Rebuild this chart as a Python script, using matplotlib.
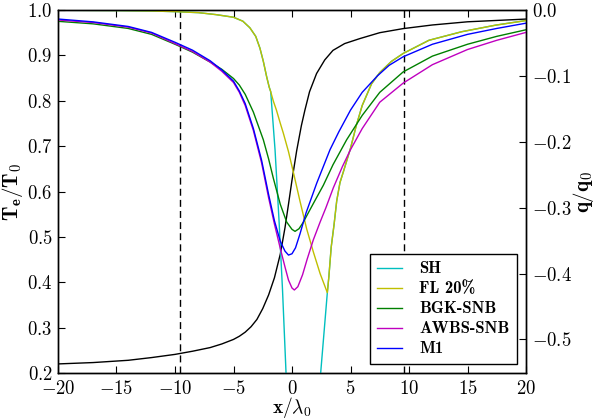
import matplotlib
matplotlib.use("Agg")
import matplotlib.pyplot as plt
from matplotlib.font_manager import FontProperties

plt.rcParams.update({
    "font.family": "serif",
    "font.serif": ["cmr10"],
    "mathtext.fontset": "cm",
    "axes.formatter.use_mathtext": True,
    "axes.unicode_minus": True,
})

# ---- data ----
t_x = [-20, -17, -14, -12, -10, -8.5, -7, -6, -5, -4.5, -4, -3.5, -3, -2.5, -2, -1.5, -1.0,
       -0.6, -0.3, 0.0, 0.4, 0.8, 1.1, 1.5, 2.1, 2.8, 3.5, 4.5, 5.8, 7.5, 9.5, 12, 15, 20]
t_val = [0.220, 0.223, 0.228, 0.234, 0.241, 0.248, 0.256, 0.264, 0.274, 0.281, 0.290, 0.302,
         0.318, 0.342, 0.372, 0.410, 0.462, 0.520, 0.572, 0.625, 0.690, 0.745, 0.779, 0.820,
         0.860, 0.890, 0.911, 0.926, 0.937, 0.950, 0.959, 0.967, 0.974, 0.980]

fl_x = [-20, -15, -12, -10, -8, -6.5, -5, -4.2, -3.6, -3.1, -2.74, -2.45, -2.17, -1.95, -1.82,
        -1.6, -1.33, -1.0, -0.74, -0.3, 0.1, 0.68, 1.25, 1.82, 2.4, 3.02, 3.15, 3.35, 3.6,
        3.82, 4.1, 4.4, 5.0, 5.5, 6.0, 6.8, 7.5, 8.5, 9.5, 11.7, 14.5, 17.4, 20]
fl_q = [-0.0004, -0.0008, -0.0015, -0.0025, -0.004, -0.007, -0.011, -0.017, -0.027, -0.040,
        -0.058, -0.078, -0.101, -0.117, -0.124, -0.138, -0.152, -0.172, -0.187, -0.215, -0.245,
        -0.290, -0.332, -0.367, -0.400, -0.429, -0.405, -0.360, -0.325, -0.290, -0.262, -0.245,
        -0.210, -0.175, -0.145, -0.112, -0.095, -0.078, -0.066, -0.046, -0.033, -0.023, -0.016]

sh_x = [-20, -15, -12, -10, -8, -6.5, -5, -4.2, -3.6, -3.1, -2.74, -2.45, -2.17, -1.95, -1.82,
        -1.45, -1.11, -0.81, -0.51, -0.2, 0.5, 1.3, 2.0, 2.45, 3.02, 3.15, 3.35, 3.6,
        3.82, 4.1, 4.4, 5.0, 5.5, 6.0, 6.8, 7.5, 8.5, 9.5, 11.7, 14.5, 17.4, 20]
sh_q = [-0.0004, -0.0008, -0.0015, -0.0025, -0.004, -0.007, -0.011, -0.017, -0.027, -0.040,
        -0.058, -0.078, -0.101, -0.117, -0.124, -0.212, -0.319, -0.425, -0.551, -0.72, -0.95,
        -0.95, -0.67, -0.551, -0.429, -0.405, -0.360, -0.325, -0.290, -0.262, -0.245,
        -0.210, -0.175, -0.145, -0.112, -0.095, -0.078, -0.066, -0.046, -0.033, -0.023, -0.016]

bgk_x = [-20, -17, -14, -12, -10, -8.5, -7, -6, -5, -4.5, -4, -3.3, -2.45, -2.0, -1.6, -1.0,
         -0.45, 0.0, 0.26, 0.6, 0.97, 1.48, 2.0, 2.68, 3.5, 4.67, 6.0, 7.5, 9.5, 12, 15, 17.5, 20]
bgk_q = [-0.0172, -0.021, -0.028, -0.037, -0.052, -0.064, -0.079, -0.090, -0.104, -0.114,
         -0.128, -0.155, -0.197, -0.226, -0.255, -0.295, -0.322, -0.333, -0.336, -0.332,
         -0.322, -0.305, -0.288, -0.266, -0.235, -0.197, -0.160, -0.125, -0.094, -0.070,
         -0.052, -0.040, -0.030]

awbs_x = [-20, -17, -14, -12, -10, -8.5, -7, -6, -5, -4.5, -4, -3.3, -2.6, -2.0, -1.5, -1.0,
          -0.6, -0.3, 0.0, 0.2, 0.5, 0.9, 1.3, 1.82, 2.4, 2.9, 3.53, 4.3, 5.0, 6.0, 7.5, 9.5,
          12, 15, 17.5, 20]
awbs_q = [-0.0152, -0.019, -0.026, -0.035, -0.051, -0.063, -0.079, -0.093, -0.110, -0.125,
          -0.145, -0.183, -0.232, -0.285, -0.325, -0.362, -0.390, -0.410, -0.422, -0.425,
          -0.420, -0.402, -0.378, -0.349, -0.322, -0.300, -0.270, -0.238, -0.212, -0.180,
          -0.140, -0.111, -0.083, -0.060, -0.046, -0.034]

m1_x = [-20, -17, -14, -12, -10, -8.5, -7, -6, -5, -4.5, -4, -3.3, -2.6, -2.0, -1.5, -1.0,
        -0.6, -0.3, 0.0, 0.3, 0.68, 1.2, 2.11, 3.25, 4.0, 5.0, 6.0, 7.3, 8.3, 9.5, 12, 15,
        17.5, 20]
m1_q = [-0.0137, -0.018, -0.025, -0.034, -0.049, -0.061, -0.077, -0.091, -0.108, -0.123,
        -0.142, -0.180, -0.228, -0.280, -0.320, -0.351, -0.366, -0.372, -0.370, -0.361,
        -0.340, -0.308, -0.263, -0.212, -0.185, -0.152, -0.125, -0.100, -0.084, -0.071,
        -0.052, -0.037, -0.028, -0.020]

labels = ["SH", "FL 20%", "BGK-SNB", "AWBS-SNB", "M1"]
dash_x = [-9.55, 9.55]

# ---- figure ----
fig = plt.figure(figsize=(5.96, 4.18), dpi=100)
ax = fig.add_axes([58/596, 1-373/418, (526-58)/596, (373-10)/418])
ax2 = ax.twinx()

ax.plot(t_x, t_val, color="k", lw=1.0)
for xv in dash_x:
    ax.axvline(xv, color="k", lw=1.0, ls=(0, (5, 3)))

ax2.plot(sh_x, sh_q, color="c", lw=1.0, label=labels[0])
ax2.plot(fl_x, fl_q, color="y", lw=1.0, label=labels[1])
ax2.plot(bgk_x, bgk_q, color="g", lw=1.0, label=labels[2])
ax2.plot(awbs_x, awbs_q, color="m", lw=1.0, label=labels[3])
ax2.plot(m1_x, m1_q, color="b", lw=1.0, label=labels[4])

ax.set_xlim(-20, 20)
ax.set_ylim(0.2, 1.0)
ax2.set_ylim(-0.551, 0.0)
ax.set_xticks([-20, -15, -10, -5, 0, 5, 10, 15, 20])
ax.set_yticks([0.2, 0.3, 0.4, 0.5, 0.6, 0.7, 0.8, 0.9, 1.0])
ax2.set_yticks([0.0, -0.1, -0.2, -0.3, -0.4, -0.5])

ax.tick_params(axis="x", which="both", direction="in", top=True, bottom=True,
               length=5, width=0.8, labelsize=13.5, pad=5)
ax.tick_params(axis="y", direction="in", left=True, right=False, length=5, width=0.8,
               labelsize=13.5, pad=4)
ax2.tick_params(axis="y", direction="in", right=True, left=False, length=5, width=0.8,
                labelsize=13.5, pad=4)
for a in (ax, ax2):
    for s in a.spines.values():
        s.set_linewidth(1.0)

ax.set_xlabel(r"$\mathbf{x/\boldsymbol{\lambda}_0}$", fontsize=14)
ax.set_ylabel(r"$\mathbf{T_e/T_0}$", fontsize=15)
ax2.set_ylabel(r"$\mathbf{q/q_0}$", fontsize=15)
ax.xaxis.set_label_coords((292 - 58) / 468, -(394.5 - 373) / 363)
ax.yaxis.set_label_coords(-(58 - 25) / 468, 0.5)
ax2.yaxis.set_label_coords((571 - 58) / 468, 0.5)

leg = ax2.legend(loc="lower right", prop=FontProperties(family="cmb10", size=12),
                 frameon=True, fancybox=False, edgecolor="k", framealpha=1,
                 handlelength=1.5, handletextpad=1.0, labelspacing=0.3,
                 borderpad=0.45, borderaxespad=0.55)
leg.get_frame().set_linewidth(1.0)

fig.savefig("out.png", dpi=100)
